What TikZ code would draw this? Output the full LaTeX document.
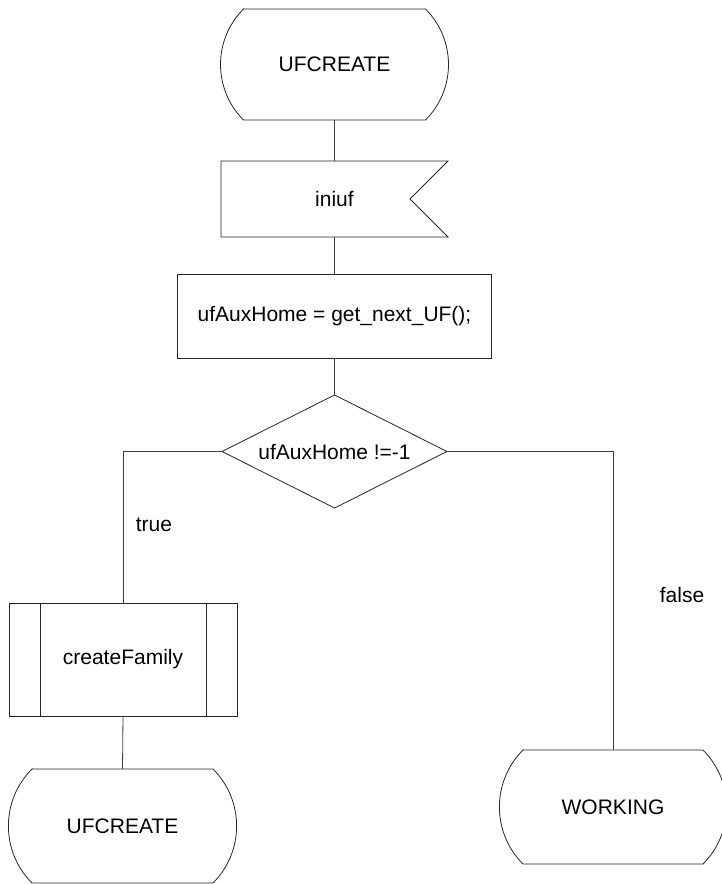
\documentclass[tikz,border=0pt]{standalone}
\usepackage{fontspec}
\setmainfont{Liberation Sans}
\usetikzlibrary{calc}

\tikzset{
  shapeline/.style={draw=black!85, line width=0.8pt},
  wire/.style={draw=black!75, line width=0.8pt},
  boxtext/.style={font=\fontsize{21}{25}\selectfont, inner sep=0pt, outer sep=0pt},
  lbl/.style={font=\fontsize{21}{25}\selectfont, inner sep=0pt},
}

% terminal outline: flat top and bottom, circular 90-degree arcs on the sides
\newcommand\terminalpath[1]{%
  \path[shapeline] let \p1=(#1.north east), \p2=(#1.south east),
    \n1={veclen(0,\y1-\y2)*0.70711} in
    (#1.north west) -- (#1.north east)
    arc[start angle=45, end angle=-45, radius=\n1]
    -- (#1.south west)
    arc[start angle=225, end angle=135, radius=\n1] -- cycle;}

\begin{document}
\begin{tikzpicture}[x=1pt, y=-1pt]
\useasboundingbox (0,0) rectangle (722,884);

% nodes
\node[boxtext, minimum width=182, minimum height=111] (start) at (334.5,64.5) {UFCREATE};
\node[boxtext, minimum width=227, minimum height=76] (iniuf) at (334.5,199) {iniuf};
\node[boxtext, minimum width=314, minimum height=84] (proc) at (334.5,316) {ufAuxHome = get\_next\_UF();};
\node[boxtext, minimum width=225, minimum height=113] (dec) at (334.5,451.5) {ufAuxHome !=-1};
\node[boxtext, minimum width=228, minimum height=113] (fam) at (123,659.5) {createFamily};
\node[boxtext, minimum width=181, minimum height=114] (stop) at (122.5,826) {UFCREATE};
\node[boxtext, minimum width=180, minimum height=114] (work) at (613,807) {WORKING};

% outlines
\terminalpath{start}
\terminalpath{stop}
\terminalpath{work}
\draw[shapeline] (iniuf.north west) -- (iniuf.north east)
  -- ($(iniuf.east)+(-38,0)$) -- (iniuf.south east) -- (iniuf.south west) -- cycle;
\draw[shapeline] (proc.north west) rectangle (proc.south east);
\draw[shapeline] (dec.north) -- (dec.east) -- (dec.south) -- (dec.west) -- cycle;
\draw[shapeline] (fam.north west) rectangle (fam.south east);
\draw[shapeline] ($(fam.north west)+(31,0)$) -- ($(fam.south west)+(31,0)$);
\draw[shapeline] ($(fam.north east)+(-31,0)$) -- ($(fam.south east)+(-31,0)$);

% connectors
\draw[wire] (start.south) -- (iniuf.north);
\draw[wire] (iniuf.south) -- (proc.north);
\draw[wire] (proc.south) -- (dec.north);
\draw[wire] (dec.west) -| (fam.north);
\draw[wire] (dec.east) -| (work.north);
\draw[wire] (fam.south) -- (stop.north);

% branch labels
\node[lbl] (ltrue) at (154,525) {true};
\node[lbl] (lfalse) at (682,595) {false};
\end{tikzpicture}
\end{document}
